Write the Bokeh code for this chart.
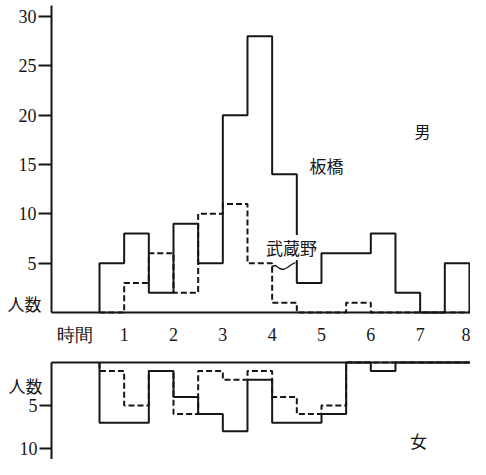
from bokeh.plotting import figure
from bokeh.layouts import column
from bokeh.models import Range1d, FixedTicker, Label
from bokeh.embed import file_html
from bokeh.resources import INLINE

# ---- data (half-hour bins, left edges in hours) ----
bin_left = [0.5, 1.0, 1.5, 2.0, 2.5, 3.0, 3.5, 4.0, 4.5, 5.0, 5.5, 6.0, 6.5, 7.0, 7.5]
male_itabashi = [5, 8, 2, 9, 5, 20, 28, 14, 3, 6, 6, 8, 2, 0, 5]
male_musashino = [0, 3, 6, 2, 10, 11, 5, 1, 0, 0, 1, 0, 0, 0, 0]
female_itabashi = [7, 7, 1, 4, 6, 8, 2, 7, 7, 6, 0, 1, 0, 0, 0]
female_musashino = [1, 5, 1, 6, 1, 2, 1, 4, 6, 5, 0, 0, 0, 0, 0]
hour_ticks = [0, 1, 2, 3, 4, 5, 6, 7, 8]
hour_labels = ["時間", "1", "2", "3", "4", "5", "6", "7", "8"]
male_ticks = [5, 10, 15, 20, 25, 30]
female_ticks = [5, 10]
BIN_W = 0.5

INK = "#161616"
NUM_FONT = "Liberation Serif"
CJK_FONT = "Noto Sans CJK JP"

W = 470
TOP_H = 350
BOT_H = 109

# pixel scales used for layout
PXH = 49.33     # px per hour
PXM = 9.867     # px per person (male panel)
PXF = 8.6       # px per person (female panel)


def hx(px):
    return 0.5 + (px - 99) / PXH


def my(py):
    return (312 - py) / PXM


def fy(py):
    return (py - 362) / PXF


def step_outline(lefts, vals, w):
    xs, ys = [lefts[0]], [0]
    for xl, v in zip(lefts, vals):
        xs += [xl, xl + w]
        ys += [v, v]
    xs.append(lefts[-1] + w)
    ys.append(0)
    return xs, ys


def style_common(p):
    p.xgrid.visible = False
    p.ygrid.visible = False
    p.outline_line_color = None
    p.background_fill_color = "white"
    p.border_fill_color = "white"


def style_axis(a):
    a.major_tick_in = 0
    a.minor_tick_out = 0
    a.minor_tick_in = 0
    a.major_tick_line_width = 2
    a.major_tick_line_color = INK
    a.axis_line_width = 2
    a.axis_line_color = INK
    a.major_label_text_font = NUM_FONT
    a.major_label_text_font_size = "18px"
    a.major_label_text_color = INK


AXIS_X = hx(51)

# ---------------- top panel (男) ----------------
top = figure(width=W, height=TOP_H,
             x_range=Range1d(hx(0), hx(W)), y_range=Range1d(my(TOP_H), my(0)),
             output_backend="svg", toolbar_location=None,
             min_border_left=0, min_border_right=0, min_border_top=0, min_border_bottom=0)
style_common(top)

xa = top.xaxis[0]
style_axis(xa)
xa.fixed_location = 0
xa.bounds = (AXIS_X, hx(W))
xa.ticker = FixedTicker(ticks=hour_ticks)
xa.major_label_overrides = {t: s for t, s in zip(hour_ticks, hour_labels)}
xa.major_tick_out = 0
xa.major_label_standoff = 12

ya = top.yaxis[0]
style_axis(ya)
ya.fixed_location = AXIS_X
ya.bounds = (0, my(5))
ya.ticker = FixedTicker(ticks=male_ticks)
ya.major_tick_out = 13
ya.major_label_standoff = 2

xs, ys = step_outline(bin_left, male_itabashi, BIN_W)
top.line(xs, ys, line_color=INK, line_width=2)
xs, ys = step_outline(bin_left, male_musashino, BIN_W)
top.line(xs, ys, line_color=INK, line_width=2, line_dash="6 3")

# leader wiggle from label 武蔵野 to its line
wig_px = [(271, 266), (275, 265), (279, 268), (283, 269), (287, 267), (291, 264), (295, 262)]
top.line([hx(a) for a, b in wig_px], [my(b) for a, b in wig_px], line_color=INK, line_width=1.3)

for txt, cx, cy, fs, bg in [
    ("男", 422, 130, "16px", None),
    ("板橋", 326, 165, "17px", None),
    ("武蔵野", 291, 247, "17px", "white"),
    ("人数", 24, 303, "17px", None),
]:
    lab = Label(x=hx(cx), y=my(cy), text=txt, text_font=CJK_FONT, text_font_size=fs,
                text_color=INK, text_align="center", text_baseline="middle")
    if bg:
        lab.background_fill_color = bg
    top.add_layout(lab)

# ---------------- bottom panel (女) ----------------
bot = figure(width=W, height=BOT_H,
             x_range=Range1d(hx(0), hx(W)), y_range=Range1d(fy(TOP_H + BOT_H), fy(TOP_H)),
             x_axis_location="above", output_backend="svg", toolbar_location=None,
             min_border_left=0, min_border_right=0, min_border_top=0, min_border_bottom=0)
style_common(bot)

bx = bot.xaxis[0]
style_axis(bx)
bx.fixed_location = 0
bx.bounds = (AXIS_X, hx(W))
bx.ticker = FixedTicker(ticks=[])
bx.major_tick_out = 0
bx.major_label_text_font_size = "0px"

by = bot.yaxis[0]
style_axis(by)
by.fixed_location = AXIS_X
by.bounds = (0, fy(TOP_H + BOT_H))
by.ticker = FixedTicker(ticks=female_ticks)
by.major_tick_out = 12
by.major_label_standoff = 2

xs, ys = step_outline(bin_left, female_itabashi, BIN_W)
bot.line(xs, ys, line_color=INK, line_width=2)
xs, ys = step_outline(bin_left, female_musashino, BIN_W)
bot.line(xs, ys, line_color=INK, line_width=2, line_dash="6 3")

for txt, cx, cy, fs in [
    ("女", 418, 440, "17px"),
    ("人数", 25, 385, "17px"),
]:
    bot.add_layout(Label(x=hx(cx), y=fy(cy), text=txt, text_font=CJK_FONT, text_font_size=fs,
                         text_color=INK, text_align="center", text_baseline="middle"))

layout = column(top, bot, spacing=0)
open("out.html", "w").write(file_html(layout, INLINE))
